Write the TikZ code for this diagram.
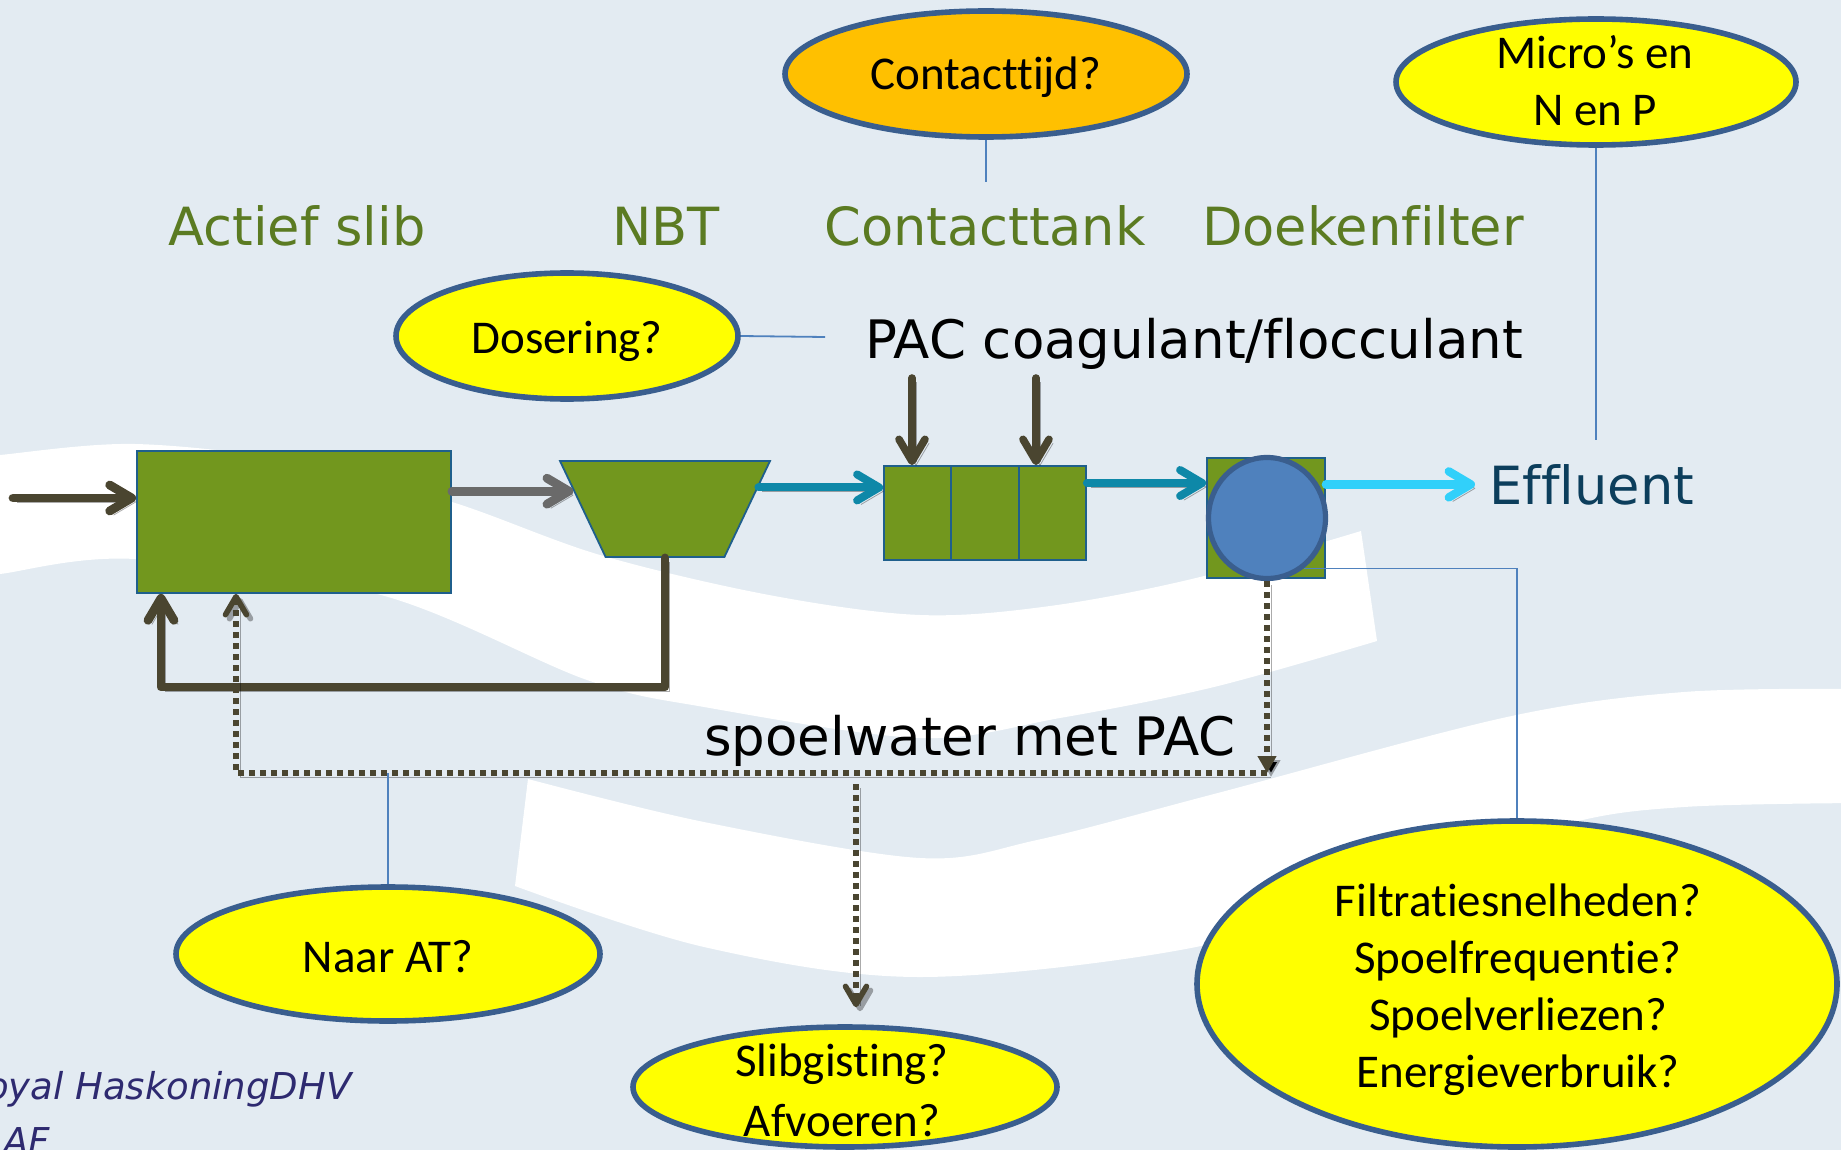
\documentclass[tikz,border=0pt]{standalone}
\usepackage{fontspec}
\setmainfont[Ligatures=NoCommon]{DejaVu Sans}
\newfontfamily\calloutfont[Ligatures=NoCommon]{Carlito}
\usetikzlibrary{shapes.geometric,arrows.meta,calc}
\definecolor{bgcol}{HTML}{E3EBF2}
\definecolor{boxgreen}{HTML}{72971E}
\definecolor{boxedge}{HTML}{1F5F8C}
\definecolor{stagegreen}{HTML}{5B7B22}
\definecolor{darkflow}{HTML}{4A4530}
\definecolor{grayflow}{HTML}{6A6A6A}
\definecolor{tealflow}{HTML}{0E88A8}
\definecolor{cyanflow}{HTML}{31D0FA}
\definecolor{efftext}{HTML}{0C3E5C}
\definecolor{calloutedge}{HTML}{3A5E8E}
\definecolor{calloutyellow}{HTML}{FFFF00}
\definecolor{calloutorange}{HTML}{FFC000}
\definecolor{filtblue}{HTML}{4F81BD}
\definecolor{leadercol}{HTML}{4F81BD}
\definecolor{footercol}{HTML}{2E2A70}
\begin{document}
\begin{tikzpicture}[x=0.5pt,y=-0.5pt,
  callout/.style={ellipse, draw=calloutedge, line width=2.8pt, fill=calloutyellow, inner sep=0pt},
  callouttext/.style={inner sep=0pt, align=center, text=black, font=\calloutfont\fontsize{23.5}{28.5}\selectfont},
  unitbox/.style={draw=boxedge, line width=0.9pt, fill=boxgreen, inner sep=0pt},
  stage/.style={anchor=base, inner sep=0pt, text=stagegreen, font=\fontsize{26.3}{30}\selectfont},
  bigtext/.style={anchor=base, inner sep=0pt, text=black, font=\fontsize{26.5}{30}\selectfont},
  shadowed/.style={preaction={draw=black, draw opacity=0.33, transform canvas={xshift=2pt,yshift=-2pt}}},
  flow/.style={shadowed, line width=4.4pt, line cap=round, -{Straight Barb[round,length=11pt,width=13pt]}},
  flowdark/.style={flow, draw=darkflow},
  flowgray/.style={flow, draw=grayflow},
  flowteal/.style={flow, draw=tealflow, line width=4pt},
  flowcyan/.style={flow, draw=cyanflow, line width=4.2pt},
  flowdose/.style={flow, draw=darkflow, line width=3.8pt},
  dotline/.style={shadowed, draw=darkflow, line width=3.3pt, dash pattern=on 2.8pt off 2.7pt},
  dottip/.style={-{Straight Barb[round,length=9pt,width=10.5pt,line width=2.8pt]}},
  leader/.style={draw=leadercol, line width=0.9pt}
]
\useasboundingbox (0,0) rectangle (1841,1150);
\clip (0,0) rectangle (1841,1150);
\fill[bgcol] (0,0) rectangle (1841,1150);

% background waves
\fill[white] plot[smooth, tension=0.55] coordinates {(-20,458) (0,455) (135,444) (300,462) (452,502) (600,555) (769,595) (920,615) (1050,606) (1196,578) (1361,531)}
  -- plot[smooth, tension=0.55] coordinates {(1377,641) (1214,687) (1060,718) (920,738) (704,707) (587,680) (381,595) (135,559) (0,574) (-20,576)} -- cycle;
\fill[white] plot[smooth, tension=0.55] coordinates {(528,779) (704,822) (920,858) (1037,840) (1214,794) (1507,717) (1684,692) (1860,689)}
  -- plot[smooth, tension=0.55] coordinates {(1860,803) (1684,807) (1566,824) (1380,885) (1196,947) (920,977) (704,947) (515,886)} -- cycle;

% stage labels
\node[stage] (lab1) at (297,246) {Actief slib};
\node[stage] (lab2) at (666,246) {NBT};
\node[stage] (lab3) at (985,246) {Contacttank};
\node[stage] (lab4) at (1363,246) {Doekenfilter};
\node[bigtext] (pac) at (1194,358) {PAC coagulant/flocculant};
\node[bigtext] (spoel) at (970,755) {spoelwater met PAC};
\node[anchor=base west, inner xsep=7pt, inner ysep=0pt, text=efftext, font=\fontsize{26.3}{30}\selectfont] (effl) at (1475,504) {Effluent};

% process units
\node[unitbox, rectangle, minimum width=157pt, minimum height=71pt] (as) at (294,522) {};
\node[unitbox, inner sep=2pt, trapezium, trapezium stretches=true, shape border rotate=180, trapezium left angle=69, trapezium right angle=69, minimum width=105pt, minimum height=48pt] (nbt) at (665,509) {};
\node[unitbox, rectangle, minimum width=101pt, minimum height=47pt] (tank) at (985,513) {};
\draw[boxedge, line width=0.9pt] ($(tank.north west)!1/3!(tank.north east)$) -- ($(tank.south west)!1/3!(tank.south east)$);
\draw[boxedge, line width=0.9pt] ($(tank.north west)!2/3!(tank.north east)$) -- ($(tank.south west)!2/3!(tank.south east)$);
\node[unitbox, rectangle, minimum width=59pt, minimum height=60pt] (filt) at (1266,518) {};
\node[ellipse, draw=calloutedge, line width=2.6pt, fill=filtblue, minimum width=58.5pt, minimum height=60.5pt, inner sep=0pt] (filtc) at (1267,518) {};

% callouts
\node[callout, fill=calloutorange, minimum width=201pt, minimum height=63pt] (cont) at (986,74) {};
\node[callouttext, anchor=base] (cont-t) at (986,90) {Contacttijd?};
\node[callout, minimum width=200pt, minimum height=63pt] (micro) at (1596,82) {};
\node[callouttext] (micro-t) at (1595,81) {Micro’s en\\N en P};
\node[callout, minimum width=171pt, minimum height=63pt] (dos) at (567,336) {};
\node[callouttext, anchor=base] (dos-t) at (567,353) {Dosering?};
\node[callout, minimum width=212pt, minimum height=67pt] (naar) at (388,954) {};
\node[callouttext, anchor=base] (naar-t) at (388,972) {Naar AT?};
\node[callout, minimum width=212pt, minimum height=60pt] (slib) at (845,1087) {};
\node[callouttext, font=\calloutfont\fontsize{23.5}{30}\selectfont] (slib-t) at (842,1090) {Slibgisting?\\Afvoeren?};
\node[callout, minimum width=320pt, minimum height=163pt] (filtq) at (1517,984) {};
\node[callouttext] (filtq-t) at (1518,990) {Filtratiesnelheden?\\Spoelfrequentie?\\Spoelverliezen?\\Energieverbruik?};

% leader lines
\coordinate (dosend) at (825,337);
\coordinate (contend) at (986,182);
\coordinate (microend) at (1596,440);
\draw[leader] (dos.east) -- (dosend);
\draw[leader] (cont.south) -- (contend);
\draw[leader] (micro.south) -- (microend);
\draw[leader] (filtc.-54) -| (filtq.north);

% main flows
\coordinate (inflow) at (13,498);
\draw[flowdark] (inflow) -- (inflow -| as.west);
\draw[flowgray] (as.east |- nbt.169) -- (nbt.169);
\draw[flowteal] (nbt.13) -- (nbt.13 -| tank.west);
\draw[flowteal] (tank.east |- 0,483) -- (filt.west |- 0,483);
\draw[flowcyan] (filt.east |- effl.west) -- (effl.west);
\coordinate (pacA) at (912,378);
\coordinate (pacB) at (1036,378);
\draw[flowdose] (pacA) -- (pacA |- tank.north);
\draw[flowdose] (pacB) -- (pacB |- tank.north);
\coordinate (retcorner) at (161,687);
\draw[flowdark, line join=round] (nbt.south) |- (retcorner) -- (retcorner |- as.south);

% rinse water (dotted)
\coordinate (spR) at (1267,773);
\coordinate (spL) at (236,773);
\coordinate (spS) at (856,784);
\draw[dotline, -{Triangle[length=8.5pt,width=9pt]}] (filtc.south) -- (spR);
\draw[dotline, dottip] (spR) -- (spL) -- (spL |- as.south);
\draw[dotline, dottip, shorten >=8.5pt] (spS) -- (spS |- slib.north);
\draw[leader] (naar.north) -- (naar.north |- spL);

% footer
\node[anchor=base west, inner sep=0pt, text=footercol, font=\itshape\fontsize{18.5}{22}\selectfont] (foot1) at (-40,1099) {Royal HaskoningDHV};
\node[anchor=base west, inner sep=0pt, text=footercol, font=\itshape\fontsize{18.5}{22}\selectfont] (foot2) at (3,1154) {AF};
\end{tikzpicture}
\end{document}
